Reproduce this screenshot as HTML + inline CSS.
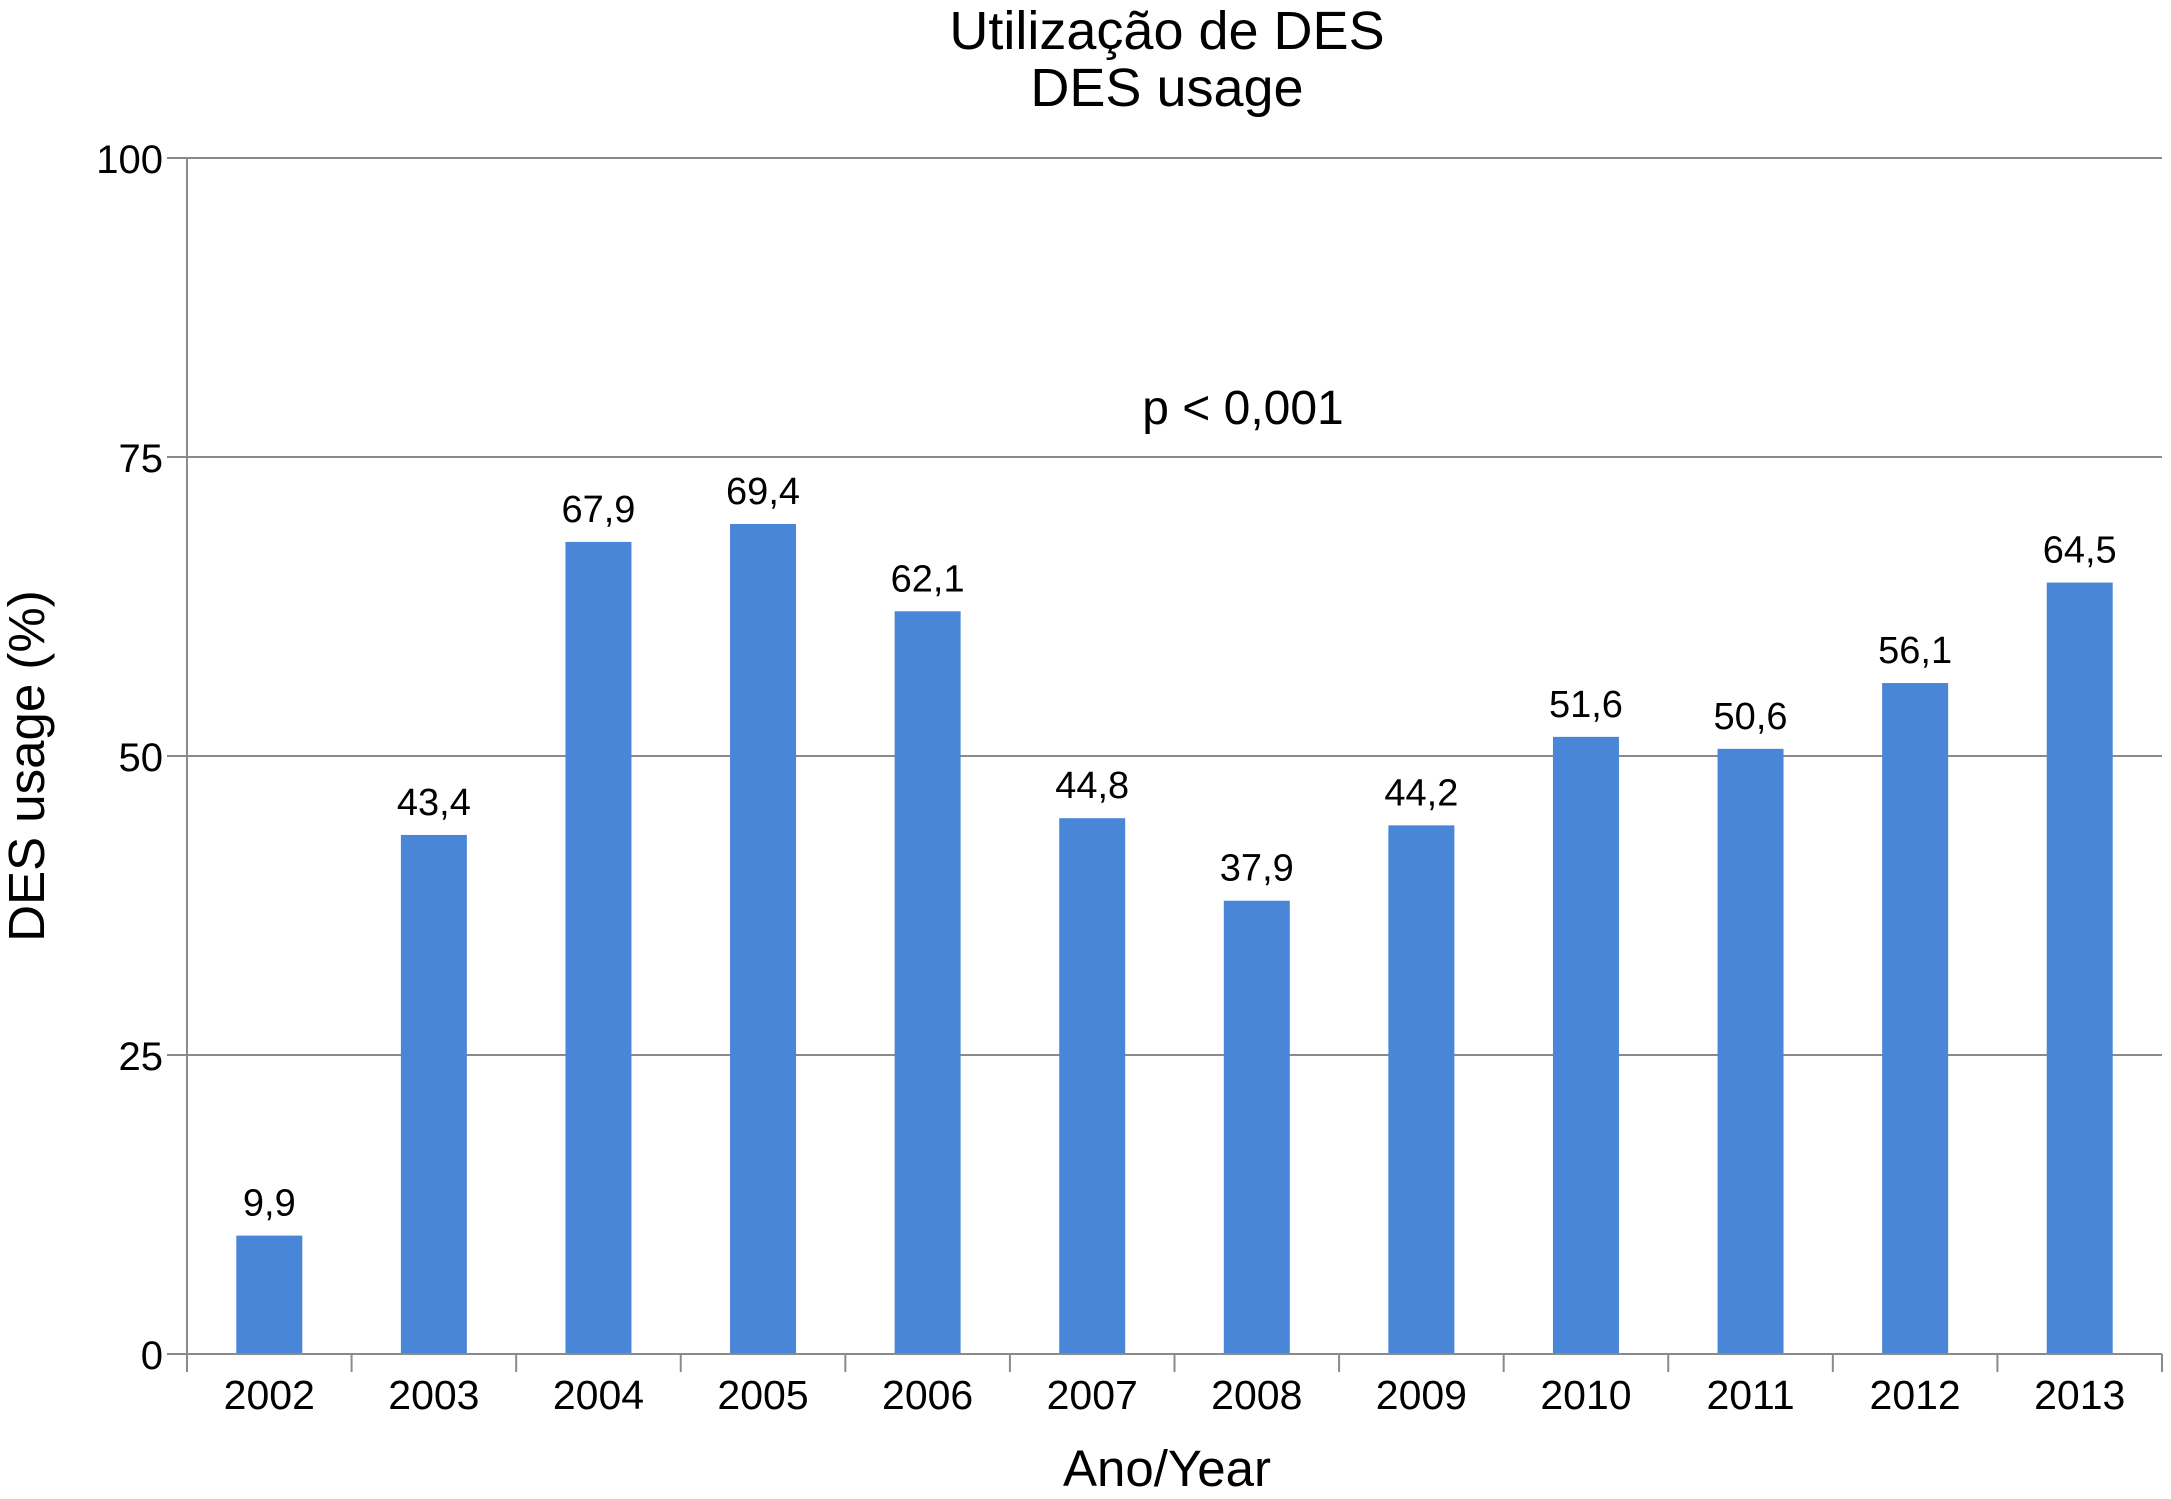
<!DOCTYPE html>
<html><head><meta charset="utf-8"><style>
body{margin:0;background:#fff}
svg{display:block;font-family:"Liberation Sans",Arial,sans-serif}
</style></head><body>
<svg id="chart" width="2171" height="1499" viewBox="0 0 2171 1499">
<text x="1167" y="49" font-size="54" text-anchor="middle">Utilização de DES</text>
<text x="1167" y="106" font-size="54" text-anchor="middle">DES usage</text>
<text x="1243" y="424" font-size="48" text-anchor="middle">p &lt; 0,001</text>
<text transform="translate(44,766) rotate(-90)" font-size="51" text-anchor="middle">DES usage (%)</text>
<text x="1167" y="1486" font-size="51" text-anchor="middle">Ano/Year</text>
<g id="grid"></g><g id="bars"></g><g id="axes"></g>
</svg>
<script>
const categories=["2002","2003","2004","2005","2006","2007","2008","2009","2010","2011","2012","2013"];
const values=[9.9,43.4,67.9,69.4,62.1,44.8,37.9,44.2,51.6,50.6,56.1,64.5];
const valueLabels=["9,9","43,4","67,9","69,4","62,1","44,8","37,9","44,2","51,6","50,6","56,1","64,5"];
const yTicks=[0,25,50,75,100];
const NS="http://www.w3.org/2000/svg";
const x0=187,x1=2162,yTop=158,yBot=1354;
const bw=(x1-x0)/categories.length;
const y=v=>yBot-(v/100)*(yBot-yTop);
const xc=i=>x0+bw*(i+0.5);
function mk(tag,attrs,parent){const e=document.createElementNS(NS,tag);for(const k in attrs)e.setAttribute(k,attrs[k]);parent.appendChild(e);return e;}
const grid=document.getElementById('grid'),bars=document.getElementById('bars'),axes=document.getElementById('axes');
yTicks.forEach(t=>{
  const l=mk('line',{x1:x0-20,x2:x1,y1:y(t),y2:y(t),stroke:'#8a8a8a','stroke-width':2},grid);
  
  
  const tx=mk('text',{x:x0-24,y:y(t)+15,'font-size':40,'text-anchor':'end'},axes);
  tx.textContent=t;
  
  
});
const ya=mk('line',{x1:x0,x2:x0,y1:yTop,y2:yBot+14,stroke:'#8a8a8a','stroke-width':2},axes);


const xa=mk('line',{x1:x0,x2:x1,y1:yBot,y2:yBot,stroke:'#8a8a8a','stroke-width':2},axes);


for(let i=0;i<=categories.length;i++){
  const tk=mk('line',{x1:x0+bw*i,x2:x0+bw*i,y1:yBot,y2:yBot+18,stroke:'#8a8a8a','stroke-width':2},axes);
  
  
}
const barW=66;
categories.forEach((c,i)=>{
  const r=mk('rect',{x:xc(i)-barW/2,y:y(values[i]),width:barW,height:yBot-y(values[i]),fill:'#4a86d8'},bars);
  
  
  const vl=mk('text',{x:xc(i),y:y(values[i])-20,'font-size':38,'text-anchor':'middle'},bars);
  vl.textContent=valueLabels[i];
  
  
  const xl=mk('text',{x:xc(i),y:1409,'font-size':41,'text-anchor':'middle'},axes);
  xl.textContent=c;
  
  
});
</script>
</body></html>
